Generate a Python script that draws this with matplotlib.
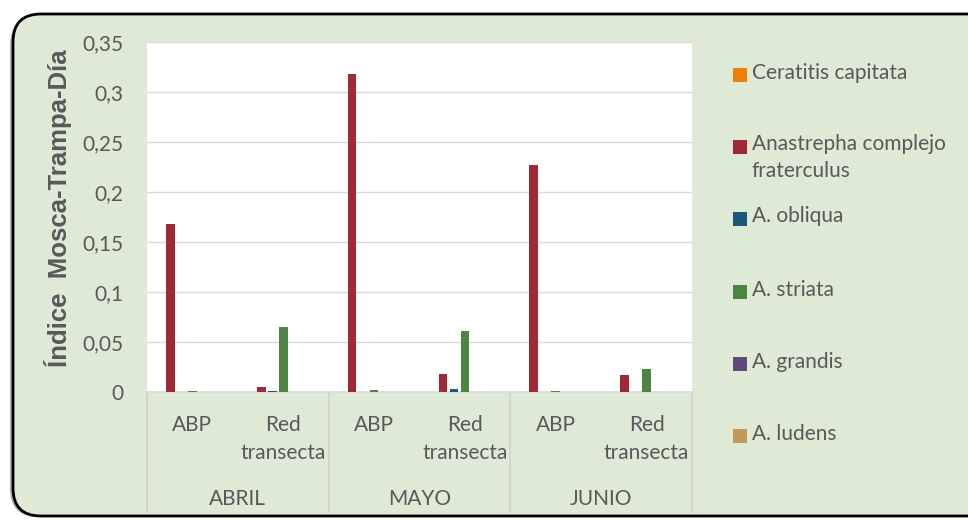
import numpy as np
import matplotlib.pyplot as plt
from matplotlib.patches import FancyBboxPatch, Rectangle
from matplotlib.transforms import blended_transform_factory

# --- datos ---
meses = ['ABRIL', 'MAYO', 'JUNIO']
redes = ['ABP', 'Red\ntransecta']
especies = ['Ceratitis capitata', 'Anastrepha complejo\nfraterculus', 'A. obliqua',
            'A. striata', 'A. grandis', 'A. ludens']
colores = ['#F07F09', '#9F2936', '#1B587C', '#4E8542', '#604878', '#C19859']

# orden: ABRIL-ABP, ABRIL-Red, MAYO-ABP, MAYO-Red, JUNIO-ABP, JUNIO-Red
ceratitis = [0, 0, 0, 0, 0, 0]
anastrepha = [0.168, 0.005, 0.318, 0.018, 0.227, 0.017]
obliqua = [0, 0.0006, 0, 0.003, 0, 0]
striata = [0.0006, 0.065, 0.002, 0.061, 0.0006, 0.023]
grandis = [0, 0, 0, 0, 0, 0]
ludens = [0, 0, 0, 0, 0, 0]
series = [ceratitis, anastrepha, obliqua, striata, grandis, ludens]

yticks = [0, 0.05, 0.1, 0.15, 0.2, 0.25, 0.3, 0.35]
ytick_labels = ['0', '0,05', '0,1', '0,15', '0,2', '0,25', '0,3', '0,35']

W, H = 968, 521
gris = '#595959'
fuente = 'Lato'
fs = 15

fig = plt.figure(figsize=(W / 100, H / 100), dpi=100)
fig.patch.set_facecolor('white')

# fondo con borde redondeado (coordenadas en pixeles)
bg = fig.add_axes([0, 0, 1, 1])
bg.set_xlim(0, W)
bg.set_ylim(H, 0)
bg.axis('off')
sombra = FancyBboxPatch((10, 17), 1000, 500, boxstyle='round,pad=0,rounding_size=28',
                        facecolor='#7f7f7f', edgecolor='none', alpha=0.6)
bg.add_patch(sombra)
marco = FancyBboxPatch((13, 14), 1000, 502, boxstyle='round,pad=0,rounding_size=28',
                       facecolor='#DEE9D6', edgecolor='black', linewidth=2)
bg.add_patch(marco)

# leyenda manual
ley_y = [75, 146.5, 218.5, 291.5, 363.5, 435.5]
for nombre, col, yy in zip(especies, colores, ley_y):
    bg.add_patch(Rectangle((733, yy - 7), 14, 14, facecolor=col, edgecolor='none'))
    bg.text(752, yy - 12, nombre, fontsize=fs, color=gris, family=fuente,
            va='top', ha='left', linespacing=1.4)

# --- grafico ---
ax = fig.add_axes([147 / W, 1 - 392 / H, 545 / W, 350 / H])
ax.set_facecolor('white')
x = np.arange(6) + 0.5
paso = 0.121
ancho = 0.095
for i, (vals, col) in enumerate(zip(series, colores)):
    ax.bar(x + (i - 3) * paso, vals, width=ancho, color=col, zorder=3)

ax.set_xlim(0, 6)
ax.set_ylim(0, 0.35)
ax.set_yticks(yticks)
ax.set_yticklabels(ytick_labels, fontsize=fs, color=gris, family=fuente)
ax.set_xticks([])
ax.tick_params(axis='y', length=0, pad=17)
ax.grid(axis='y', color='#D9D9D9', linewidth=1, zorder=0)
for s in ['top', 'right', 'left']:
    ax.spines[s].set_visible(False)
ax.spines['bottom'].set_color('#D9D9D9')
ax.spines['bottom'].set_linewidth(1.2)

ax.set_ylabel('Índice  Mosca-Trampa-Día', fontsize=18.5, fontweight='bold',
              color=gris, family='Liberation Sans')
ax.yaxis.set_label_coords(-(147 - 72) / 545, (392 - 208) / 350)

# etiquetas de categorias en dos niveles
tr = blended_transform_factory(ax.transData, ax.transAxes)
for k in range(6):
    ax.text(x[k], -0.065, redes[k % 2], transform=tr, ha='center', va='top',
            fontsize=fs, color=gris, family=fuente, linespacing=1.5)
for m, mes in enumerate(meses):
    ax.text(2 * m + 1, -0.305, mes, transform=tr, ha='center', va='center',
            fontsize=fs, color=gris, family=fuente)
for xb in [0, 2, 4, 6]:
    ax.plot([xb, xb], [0, -0.343], transform=tr, color='#D0D0D0',
            linewidth=1.2, clip_on=False)

fig.savefig('out.png', dpi=100)
